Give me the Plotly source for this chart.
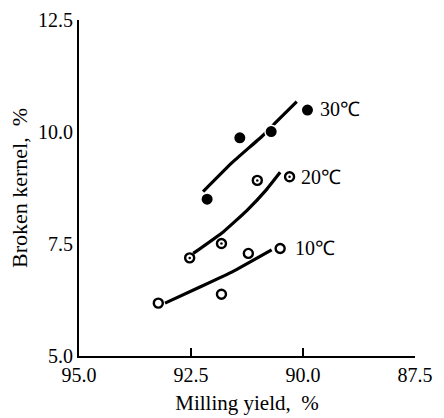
import plotly.graph_objects as go

# ---- data ----
x30 = [92.14, 91.41, 90.71, 89.90]
y30 = [8.50, 9.87, 10.01, 10.49]
x20 = [92.53, 91.82, 91.02, 90.30]
y20 = [7.19, 7.51, 8.92, 9.00]
x10 = [93.23, 91.82, 91.22, 90.51]
y10 = [6.18, 6.38, 7.29, 7.40]

# fitted curves (points along each drawn curve)
cx30 = [92.23, 91.59, 90.92, 90.63, 90.14]
cy30 = [8.67, 9.31, 9.90, 10.19, 10.68]
cx20 = [92.45, 91.78, 91.26, 90.81, 90.51]
cy20 = [7.29, 7.77, 8.24, 8.72, 9.10]
cx10 = [93.08, 92.30, 91.56, 90.70]
cy10 = [6.18, 6.54, 6.89, 7.37]

labels = ["30℃", "20℃", "10℃"]
label_x = [89.67, 90.09, 90.22]
label_y = [10.51, 9.00, 7.41]

xticks = [95.0, 92.5, 90.0, 87.5]
xticktext = ["95.0", "92.5", "90.0", "87.5"]
yticks = [5.0, 7.5, 10.0, 12.5]
yticktext = ["5.0", "7.5", "10.0", "12.5"]

FONT = "Liberation Serif"

fig = go.Figure()
line_style = dict(color="black", width=3.2, shape="spline", smoothing=0.3)
for cx, cy in [(cx30, cy30), (cx20, cy20), (cx10, cy10)]:
    fig.add_trace(go.Scatter(x=cx, y=cy, mode="lines", line=line_style,
                             showlegend=False, hoverinfo="skip"))

# 30 C filled circles
fig.add_trace(go.Scatter(x=x30, y=y30, mode="markers", showlegend=False,
                         marker=dict(symbol="circle", size=12.5, color="black",
                                     line=dict(color="white", width=1.5))))
# 20 C open circles with center dot
fig.add_trace(go.Scatter(x=x20, y=y20, mode="markers", showlegend=False,
                         marker=dict(symbol="circle", size=9, color="white",
                                     line=dict(color="black", width=2.4))))
fig.add_trace(go.Scatter(x=x20, y=y20, mode="markers", showlegend=False,
                         marker=dict(symbol="circle", size=2.5, color="black",
                                     line=dict(width=0))))
# 10 C open circles
fig.add_trace(go.Scatter(x=x10, y=y10, mode="markers", showlegend=False,
                         marker=dict(symbol="circle", size=9, color="white",
                                     line=dict(color="black", width=2.4))))

for t, lx, ly in zip(labels, label_x, label_y):
    fig.add_annotation(x=lx, y=ly, text=t, showarrow=False, xanchor="left",
                       yanchor="middle", font=dict(family=FONT, size=20, color="black"))

# helper axis carrying only the top tick of the y axis
fig.add_trace(go.Scatter(x=[None], y=[None], yaxis="y2", showlegend=False))

fig.update_layout(
    width=444, height=418,
    margin=dict(l=79, r=29, t=20, b=62, autoexpand=False),
    paper_bgcolor="white", plot_bgcolor="white",
    font=dict(family=FONT, color="black"),
    xaxis=dict(range=[95.0, 87.5], tickvals=xticks, ticktext=xticktext,
               automargin=False,
               showgrid=False, zeroline=False, showline=True, linecolor="black",
               linewidth=2, ticks="inside", ticklen=8, tickwidth=2, tickcolor="black",
               tickfont=dict(family=FONT, size=20, color="black"),
               title=dict(text="Milling yield,  %", font=dict(family=FONT, size=21),
                          standoff=10)),
    yaxis=dict(range=[5.0, 12.5], tickvals=yticks, ticktext=yticktext,
               automargin=False,
               showgrid=False, zeroline=False, showline=True, linecolor="black",
               linewidth=2, ticks="", tickfont=dict(family=FONT, size=20, color="black"),
               title=dict(text="Broken kernel,  %", font=dict(family=FONT, size=22),
                          standoff=4)),
    yaxis2=dict(range=[5.0, 12.5], overlaying="y", side="left", tickvals=[12.5],
                automargin=False,
                showticklabels=False, ticks="inside", ticklen=9, tickwidth=2,
                tickcolor="black", showgrid=False, zeroline=False, showline=False),
)

fig.write_html("out.html")
